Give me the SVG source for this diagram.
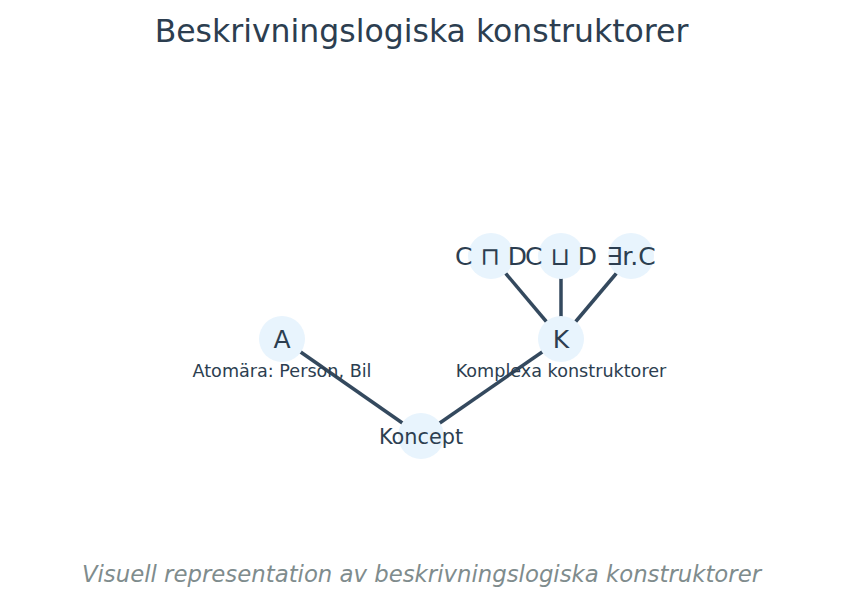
<svg xmlns="http://www.w3.org/2000/svg" width="843" height="607" viewBox="0 0 843 607">
<style>
text{font-family:"DejaVu Sans",sans-serif;fill:#2c3e50;text-anchor:middle}
.n{fill:#e8f4fd}
.e{stroke:#34495e;stroke-width:3.5;fill:none}
.big{font-size:25px}
.sub{font-size:17.6px}
</style>
<rect width="843" height="607" fill="#ffffff"/>
<text x="421.5" y="42" style="font-size:31.5px">Beskrivningslogiska konstruktorer</text>
<g id="connectors">
<line class="e" x1="421" y1="436" x2="282" y2="339"/>
<line class="e" x1="421" y1="436" x2="561" y2="339"/>
<line class="e" x1="561" y1="339" x2="491" y2="256"/>
<line class="e" x1="561" y1="339" x2="561" y2="256"/>
<line class="e" x1="561" y1="339" x2="631" y2="256"/>
</g>
<g id="node-koncept"><circle class="n" cx="421" cy="436" r="23"/><text x="421" y="443.5" style="font-size:20.8px">Koncept</text></g>
<g id="node-A"><circle class="n" cx="282" cy="339" r="23"/><text class="big" x="282" y="348">A</text><text class="sub" x="282" y="377">Atomära: Person, Bil</text></g>
<g id="node-K"><circle class="n" cx="561" cy="339" r="23"/><text class="big" x="561" y="348">K</text><text class="sub" x="561" y="377">Komplexa konstruktorer</text></g>
<g id="node-and"><circle class="n" cx="491" cy="256" r="23"/><text class="big" x="491" y="265">C ⊓ D</text></g>
<g id="node-or"><circle class="n" cx="561" cy="256" r="23"/><text class="big" x="561" y="265">C ⊔ D</text></g>
<g id="node-exists"><circle class="n" cx="631" cy="256" r="23"/><text class="big" x="631" y="265">∃r.C</text></g>
<text x="421.5" y="582" style="font-size:22.8px;font-style:italic;fill:#7f8c8d">Visuell representation av beskrivningslogiska konstruktorer</text>
</svg>
